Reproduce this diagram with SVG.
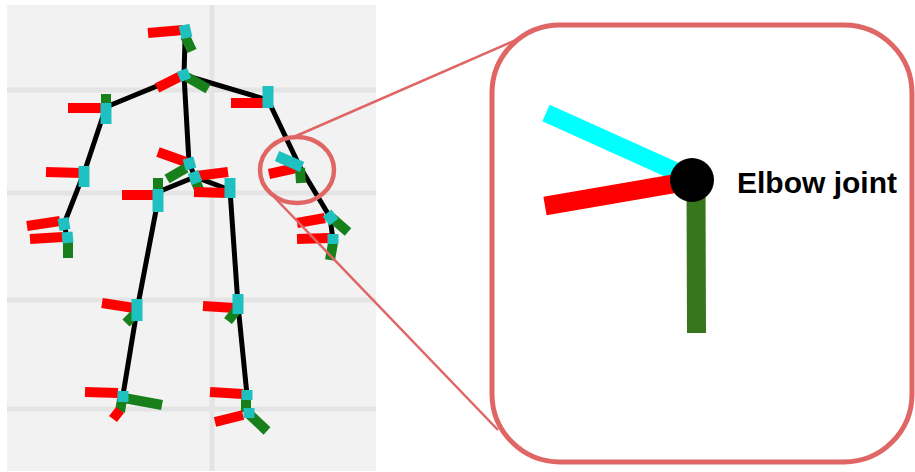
<svg xmlns="http://www.w3.org/2000/svg" width="915" height="472" viewBox="0 0 915 472">
  <style>
    .bone { stroke: #000; stroke-width: 5; stroke-linecap: round; fill: none; }
    .ax { stroke-width: 10; stroke-linecap: butt; fill: none; }
    .x { stroke: #ff0000; }
    .y { stroke: #17801a; }
    .z { stroke: #1fc0c0; stroke-width: 11; }
    .grid { stroke: #e4e4e4; stroke-width: 5; }
    .callout { stroke: #e06666; fill: none; }
    .label { font-family: "Liberation Sans", Arial, sans-serif; font-weight: bold; font-size: 30px; fill: #000; }
  </style>

  <!-- Plot panel with grid -->
  <g id="panel">
    <rect x="7" y="5" width="369" height="466" fill="#f2f2f2"/>
    <line class="grid" x1="212" y1="5" x2="212" y2="471"/>
    <line class="grid" x1="7" y1="90" x2="376" y2="90"/>
    <line class="grid" x1="7" y1="193" x2="376" y2="193"/>
    <line class="grid" x1="7" y1="300" x2="376" y2="300"/>
    <line class="grid" x1="7" y1="409" x2="376" y2="409"/>
  </g>

  <!-- Skeleton bones -->
  <g id="connectors">
    <polyline class="bone" points="185,40 184,75 189,163 195,177"/>
    <polyline class="bone" points="106,107 184,75 268,100 300,167 330,217 333,240"/>
    <polyline class="bone" points="106,107 84,173 64,224 67,237"/>
    <polyline class="bone" points="158,192 195,177 230,190"/>
    <polyline class="bone" points="158,200 137,310 123,395"/>
    <polyline class="bone" points="230,190 238,305 247,395 248,413"/>
  </g>

  <!-- Joint frames: red = x, green = y, cyan = z -->
  <g id="head">
    <line class="ax x" x1="148" y1="33" x2="183" y2="30"/>
    <line class="ax y" x1="185" y1="36" x2="192" y2="51"/>
    <line class="ax z" x1="184" y1="25" x2="187" y2="38"/>
  </g>
  <g id="neck">
    <line class="ax x" x1="157" y1="88" x2="181" y2="76"/>
    <line class="ax y" x1="187" y1="77" x2="208" y2="89"/>
    <line class="ax z" x1="182" y1="70" x2="186" y2="80"/>
  </g>
  <g id="l_shoulder">
    <line class="ax x" x1="68" y1="108" x2="104" y2="108"/>
    <line class="ax y" x1="106" y1="94" x2="106" y2="103"/>
    <line class="ax z" x1="106" y1="103" x2="106" y2="124"/>
  </g>
  <g id="l_elbow">
    <line class="ax x" x1="46" y1="172" x2="82" y2="173"/>
    <line class="ax z" x1="84" y1="166" x2="84" y2="187"/>
  </g>
  <g id="l_wrist">
    <line class="ax x" x1="27" y1="226" x2="60" y2="221"/>
    <line class="ax z" x1="63" y1="218" x2="65" y2="230"/>
  </g>
  <g id="l_hand">
    <line class="ax x" x1="30" y1="239" x2="63" y2="237"/>
    <line class="ax y" x1="68" y1="240" x2="68" y2="258"/>
    <line class="ax z" x1="67" y1="232" x2="68" y2="243"/>
  </g>
  <g id="r_shoulder">
    <line class="ax x" x1="231" y1="103" x2="266" y2="103"/>
    <line class="ax z" x1="268" y1="86" x2="268" y2="108"/>
  </g>
  <g id="r_elbow">
    <line class="ax x" x1="269" y1="174" x2="296" y2="168"/>
    <line class="ax y" x1="300" y1="168" x2="301" y2="183"/>
    <line class="ax z" x1="277" y1="156" x2="302" y2="167"/>
  </g>
  <g id="r_wrist">
    <line class="ax x" x1="297" y1="223" x2="325" y2="218"/>
    <line class="ax y" x1="332" y1="218" x2="348" y2="232"/>
    <line class="ax z" x1="327" y1="213" x2="334" y2="222"/>
  </g>
  <g id="r_hand">
    <line class="ax x" x1="297" y1="239" x2="330" y2="238"/>
    <line class="ax y" x1="333" y1="243" x2="330" y2="260"/>
    <line class="ax z" x1="333" y1="234" x2="333" y2="244"/>
  </g>
  <g id="spine">
    <line class="ax x" x1="158" y1="152" x2="186" y2="162"/>
    <line class="ax y" x1="186" y1="168" x2="167" y2="179"/>
    <line class="ax z" x1="188" y1="158" x2="191" y2="169"/>
  </g>
  <g id="pelvis">
    <line class="ax x" x1="196" y1="176" x2="228" y2="172"/>
    <line class="ax y" x1="195" y1="180" x2="201" y2="194"/>
    <line class="ax z" x1="193" y1="172" x2="197" y2="183"/>
  </g>
  <g id="l_hip">
    <line class="ax x" x1="122" y1="195" x2="155" y2="195"/>
    <line class="ax y" x1="158" y1="178" x2="158" y2="189"/>
    <line class="ax z" x1="158" y1="189" x2="158" y2="212"/>
  </g>
  <g id="r_hip">
    <line class="ax x" x1="194" y1="192" x2="228" y2="193"/>
    <line class="ax z" x1="230" y1="178" x2="230" y2="198"/>
  </g>
  <g id="l_knee">
    <line class="ax x" x1="102" y1="303" x2="134" y2="308"/>
    <line class="ax y" x1="136" y1="313" x2="126" y2="323"/>
    <line class="ax z" x1="137" y1="299" x2="137" y2="321"/>
  </g>
  <g id="r_knee">
    <line class="ax x" x1="203" y1="306" x2="235" y2="308"/>
    <line class="ax y" x1="236" y1="311" x2="228" y2="321"/>
    <line class="ax z" x1="238" y1="294" x2="238" y2="314"/>
  </g>
  <g id="l_ankle">
    <line class="ax x" x1="85" y1="392" x2="118" y2="393"/>
    <line class="ax y" x1="124" y1="398" x2="162" y2="405"/>
    <line class="ax y" x1="122" y1="399" x2="120" y2="412"/>
    <line class="ax x" x1="120" y1="410" x2="113" y2="419"/>
    <line class="ax z" x1="123" y1="391" x2="123" y2="402"/>
  </g>
  <g id="r_ankle">
    <line class="ax x" x1="210" y1="392" x2="243" y2="394"/>
    <line class="ax y" x1="246" y1="399" x2="246" y2="412"/>
    <line class="ax z" x1="247" y1="390" x2="247" y2="400"/>
  </g>
  <g id="r_foot">
    <line class="ax x" x1="215" y1="422" x2="243" y2="415"/>
    <line class="ax y" x1="248" y1="413" x2="267" y2="431"/>
    <line class="ax z" x1="249" y1="408" x2="249" y2="418"/>
  </g>

  <!-- Callout from the elbow to the enlarged view -->
  <g id="callout_lines">
    <line class="callout" stroke-width="2.5" x1="296" y1="136" x2="516" y2="40"/>
    <line class="callout" stroke-width="2.5" x1="275" y1="198" x2="498" y2="430"/>
  </g>
  <ellipse id="elbow_marker" class="callout" stroke-width="4.5" cx="297" cy="170" rx="37" ry="33"/>

  <!-- Enlarged elbow joint frame -->
  <g id="detail_box">
    <rect x="492" y="25" width="420" height="437" rx="68" ry="68" fill="#ffffff" stroke="#e06666" stroke-width="5"/>
  </g>
  <g id="detail_joint">
    <line x1="546" y1="113" x2="688" y2="177" stroke="#00ffff" stroke-width="18"/>
    <line x1="545" y1="206" x2="690" y2="181" stroke="#ff0000" stroke-width="19"/>
    <line x1="696" y1="186" x2="696.5" y2="333" stroke="#38761d" stroke-width="19"/>
    <circle cx="692" cy="180" r="22" fill="#000"/>
    <text class="label" x="737" y="193">Elbow joint</text>
  </g>
</svg>
